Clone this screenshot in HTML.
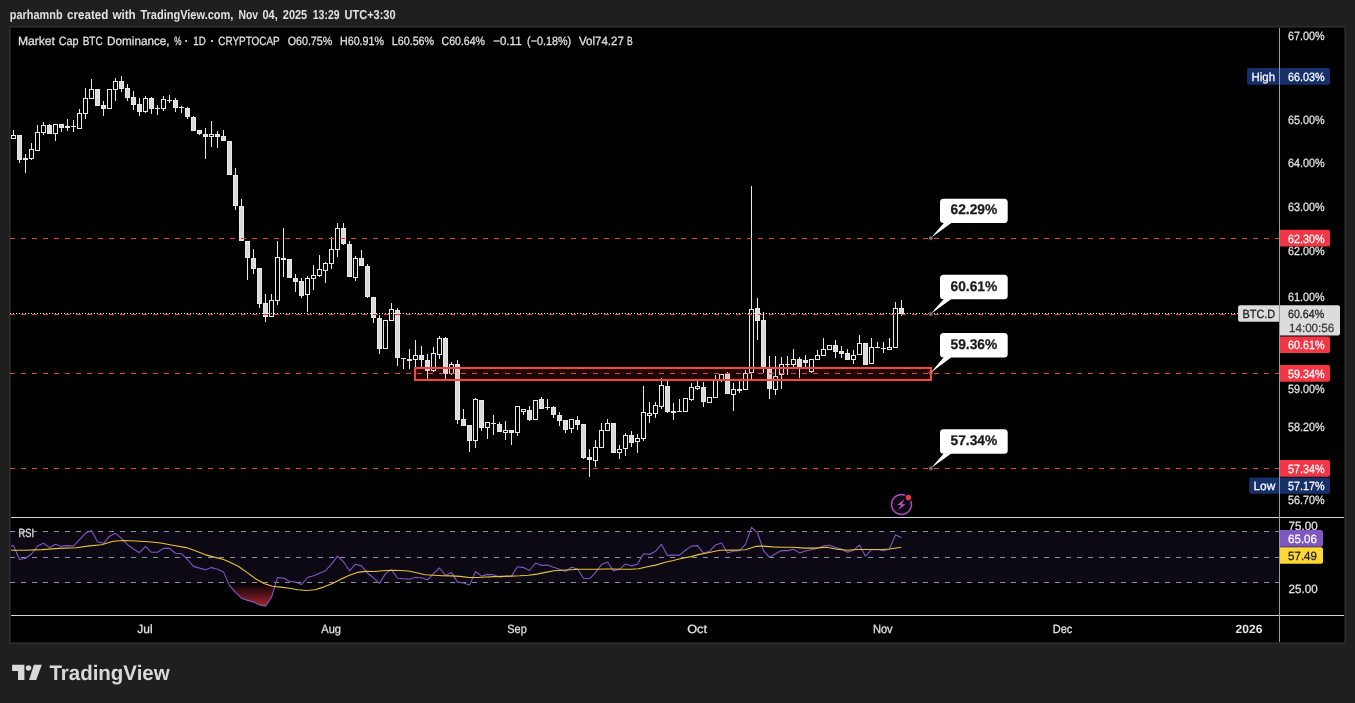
<!DOCTYPE html>
<html lang="en"><head><meta charset="utf-8"><title>BTC.D chart</title>
<style>html,body{margin:0;padding:0;background:#1f1f1f;overflow:hidden}svg{display:block}</style></head>
<body>
<svg width="1355" height="703" viewBox="0 0 1355 703" shape-rendering="crispEdges" text-rendering="geometricPrecision">
<style>text{font-family:"Liberation Sans",sans-serif;font-size:12px;fill:#e2e2e2;stroke:#e2e2e2;stroke-width:0.25px} .b{stroke:none} .w{stroke:#fff} .k{stroke:#1a1a1a} .b{font-weight:bold} .w{fill:#fff} .k{fill:#1a1a1a}</style>
<rect width="1355" height="703" fill="#1f1f1f"/>
<rect x="9" y="26" width="1337" height="618" fill="#2e2e2e"/>
<rect x="10" y="27" width="1335" height="616" fill="#1b1b1b"/>
<rect x="11" y="28" width="1333" height="614" fill="#000"/>
<text x="9.8" y="18.9" textLength="52.8" lengthAdjust="spacingAndGlyphs" class="b" style="font-size:13px">parhamnb</text>
<text x="67.0" y="18.9" textLength="41.3" lengthAdjust="spacingAndGlyphs" class="b" style="font-size:13px">created</text>
<text x="112.4" y="18.9" textLength="23.3" lengthAdjust="spacingAndGlyphs" class="b" style="font-size:13px">with</text>
<text x="140.4" y="18.9" textLength="93.0" lengthAdjust="spacingAndGlyphs" class="b" style="font-size:13px">TradingView.com,</text>
<text x="238.5" y="18.9" textLength="19.6" lengthAdjust="spacingAndGlyphs" class="b" style="font-size:13px">Nov</text>
<text x="262.4" y="18.9" textLength="15.3" lengthAdjust="spacingAndGlyphs" class="b" style="font-size:13px">04,</text>
<text x="282.8" y="18.9" textLength="24.4" lengthAdjust="spacingAndGlyphs" class="b" style="font-size:13px">2025</text>
<text x="312.8" y="18.9" textLength="26.8" lengthAdjust="spacingAndGlyphs" class="b" style="font-size:13px">13:29</text>
<text x="344.5" y="18.9" textLength="51.1" lengthAdjust="spacingAndGlyphs" class="b" style="font-size:13px">UTC+3:30</text>
<rect x="11" y="531" width="1268" height="52" fill="#0d0914"/>
<line x1="10" x2="1279" y1="531.5" y2="531.5" stroke="#8d909b" stroke-width="1" stroke-dasharray="5 6"/>
<line x1="10" x2="1279" y1="557.5" y2="557.5" stroke="#8d909b" stroke-width="1" stroke-dasharray="5 6"/>
<line x1="10" x2="1279" y1="582.5" y2="582.5" stroke="#8d909b" stroke-width="1" stroke-dasharray="5 6"/>
<rect x="13" y="130" width="1" height="9" fill="#e7e7e7"/>
<rect x="11" y="135" width="5" height="4" fill="#e7e7e7"/><rect x="12" y="136" width="3" height="2" fill="#000"/>
<rect x="19" y="135" width="1" height="28" fill="#e7e7e7"/>
<rect x="17" y="135" width="5" height="25" fill="#e7e7e7"/><rect x="18" y="136" width="3" height="23" fill="#dadada"/>
<rect x="25" y="154" width="1" height="19" fill="#e7e7e7"/>
<rect x="23" y="158" width="5" height="2" fill="#e7e7e7"/>
<rect x="31" y="143" width="1" height="17" fill="#e7e7e7"/>
<rect x="29" y="149" width="5" height="10" fill="#e7e7e7"/><rect x="30" y="150" width="3" height="8" fill="#000"/>
<rect x="37" y="125" width="1" height="26" fill="#e7e7e7"/>
<rect x="35" y="132" width="5" height="19" fill="#e7e7e7"/><rect x="36" y="133" width="3" height="17" fill="#000"/>
<rect x="43" y="122" width="1" height="13" fill="#e7e7e7"/>
<rect x="41" y="125" width="5" height="8" fill="#e7e7e7"/><rect x="42" y="126" width="3" height="6" fill="#000"/>
<rect x="49" y="124" width="1" height="10" fill="#e7e7e7"/>
<rect x="47" y="125" width="5" height="9" fill="#e7e7e7"/><rect x="48" y="126" width="3" height="7" fill="#dadada"/>
<rect x="55" y="124" width="1" height="17" fill="#e7e7e7"/>
<rect x="53" y="124" width="5" height="10" fill="#e7e7e7"/><rect x="54" y="125" width="3" height="8" fill="#000"/>
<rect x="61" y="124" width="1" height="8" fill="#e7e7e7"/>
<rect x="59" y="124" width="5" height="4" fill="#e7e7e7"/><rect x="60" y="125" width="3" height="2" fill="#dadada"/>
<rect x="67" y="119" width="1" height="12" fill="#e7e7e7"/>
<rect x="65" y="126" width="5" height="2" fill="#e7e7e7"/>
<rect x="73" y="120" width="1" height="12" fill="#e7e7e7"/>
<rect x="71" y="126" width="5" height="1" fill="#e7e7e7"/>
<rect x="79" y="109" width="1" height="20" fill="#e7e7e7"/>
<rect x="77" y="113" width="5" height="16" fill="#e7e7e7"/><rect x="78" y="114" width="3" height="14" fill="#000"/>
<rect x="85" y="88" width="1" height="31" fill="#e7e7e7"/>
<rect x="83" y="98" width="5" height="16" fill="#e7e7e7"/><rect x="84" y="99" width="3" height="14" fill="#000"/>
<rect x="91" y="79" width="1" height="20" fill="#e7e7e7"/>
<rect x="89" y="89" width="5" height="10" fill="#e7e7e7"/><rect x="90" y="90" width="3" height="8" fill="#000"/>
<rect x="97" y="89" width="1" height="17" fill="#e7e7e7"/>
<rect x="95" y="89" width="5" height="17" fill="#e7e7e7"/><rect x="96" y="90" width="3" height="15" fill="#dadada"/>
<rect x="103" y="101" width="1" height="15" fill="#e7e7e7"/>
<rect x="101" y="105" width="5" height="4" fill="#e7e7e7"/><rect x="102" y="106" width="3" height="2" fill="#dadada"/>
<rect x="109" y="89" width="1" height="20" fill="#e7e7e7"/>
<rect x="107" y="89" width="5" height="20" fill="#e7e7e7"/><rect x="108" y="90" width="3" height="18" fill="#000"/>
<rect x="115" y="78" width="1" height="23" fill="#e7e7e7"/>
<rect x="113" y="81" width="5" height="9" fill="#e7e7e7"/><rect x="114" y="82" width="3" height="7" fill="#000"/>
<rect x="121" y="76" width="1" height="16" fill="#e7e7e7"/>
<rect x="119" y="81" width="5" height="8" fill="#e7e7e7"/><rect x="120" y="82" width="3" height="6" fill="#dadada"/>
<rect x="127" y="84" width="1" height="17" fill="#e7e7e7"/>
<rect x="125" y="88" width="5" height="10" fill="#e7e7e7"/><rect x="126" y="89" width="3" height="8" fill="#dadada"/>
<rect x="133" y="91" width="1" height="19" fill="#e7e7e7"/>
<rect x="131" y="97" width="5" height="8" fill="#e7e7e7"/><rect x="132" y="98" width="3" height="6" fill="#dadada"/>
<rect x="139" y="98" width="1" height="18" fill="#e7e7e7"/>
<rect x="137" y="104" width="5" height="8" fill="#e7e7e7"/><rect x="138" y="105" width="3" height="6" fill="#dadada"/>
<rect x="145" y="96" width="1" height="17" fill="#e7e7e7"/>
<rect x="143" y="98" width="5" height="14" fill="#e7e7e7"/><rect x="144" y="99" width="3" height="12" fill="#000"/>
<rect x="151" y="97" width="1" height="17" fill="#e7e7e7"/>
<rect x="149" y="98" width="5" height="11" fill="#e7e7e7"/><rect x="150" y="99" width="3" height="9" fill="#dadada"/>
<rect x="157" y="105" width="1" height="10" fill="#e7e7e7"/>
<rect x="155" y="108" width="5" height="1" fill="#e7e7e7"/>
<rect x="163" y="96" width="1" height="15" fill="#e7e7e7"/>
<rect x="161" y="99" width="5" height="10" fill="#e7e7e7"/><rect x="162" y="100" width="3" height="8" fill="#000"/>
<rect x="169" y="95" width="1" height="8" fill="#e7e7e7"/>
<rect x="167" y="100" width="5" height="1" fill="#e7e7e7"/>
<rect x="175" y="98" width="1" height="14" fill="#e7e7e7"/>
<rect x="173" y="100" width="5" height="8" fill="#e7e7e7"/><rect x="174" y="101" width="3" height="6" fill="#dadada"/>
<rect x="181" y="106" width="1" height="7" fill="#e7e7e7"/>
<rect x="179" y="107" width="5" height="1" fill="#e7e7e7"/>
<rect x="187" y="107" width="1" height="12" fill="#e7e7e7"/>
<rect x="185" y="108" width="5" height="9" fill="#e7e7e7"/><rect x="186" y="109" width="3" height="7" fill="#dadada"/>
<rect x="193" y="116" width="1" height="15" fill="#e7e7e7"/>
<rect x="191" y="117" width="5" height="14" fill="#e7e7e7"/><rect x="192" y="118" width="3" height="12" fill="#dadada"/>
<rect x="199" y="130" width="1" height="5" fill="#e7e7e7"/>
<rect x="197" y="130" width="5" height="4" fill="#e7e7e7"/><rect x="198" y="131" width="3" height="2" fill="#dadada"/>
<rect x="205" y="128" width="1" height="31" fill="#e7e7e7"/>
<rect x="203" y="134" width="5" height="3" fill="#e7e7e7"/><rect x="204" y="135" width="3" height="1" fill="#dadada"/>
<rect x="211" y="121" width="1" height="26" fill="#e7e7e7"/>
<rect x="209" y="134" width="5" height="3" fill="#e7e7e7"/><rect x="210" y="135" width="3" height="1" fill="#000"/>
<rect x="217" y="131" width="1" height="17" fill="#e7e7e7"/>
<rect x="215" y="134" width="5" height="3" fill="#e7e7e7"/><rect x="216" y="135" width="3" height="1" fill="#dadada"/>
<rect x="223" y="130" width="1" height="11" fill="#e7e7e7"/>
<rect x="221" y="136" width="5" height="5" fill="#e7e7e7"/><rect x="222" y="137" width="3" height="3" fill="#dadada"/>
<rect x="229" y="141" width="1" height="34" fill="#e7e7e7"/>
<rect x="227" y="141" width="5" height="34" fill="#e7e7e7"/><rect x="228" y="142" width="3" height="32" fill="#dadada"/>
<rect x="235" y="168" width="1" height="42" fill="#e7e7e7"/>
<rect x="233" y="175" width="5" height="31" fill="#e7e7e7"/><rect x="234" y="176" width="3" height="29" fill="#dadada"/>
<rect x="241" y="199" width="1" height="42" fill="#e7e7e7"/>
<rect x="239" y="206" width="5" height="35" fill="#e7e7e7"/><rect x="240" y="207" width="3" height="33" fill="#dadada"/>
<rect x="247" y="241" width="1" height="39" fill="#e7e7e7"/>
<rect x="245" y="241" width="5" height="17" fill="#e7e7e7"/><rect x="246" y="242" width="3" height="15" fill="#dadada"/>
<rect x="253" y="249" width="1" height="25" fill="#e7e7e7"/>
<rect x="251" y="258" width="5" height="11" fill="#e7e7e7"/><rect x="252" y="259" width="3" height="9" fill="#dadada"/>
<rect x="259" y="268" width="1" height="40" fill="#e7e7e7"/>
<rect x="257" y="268" width="5" height="36" fill="#e7e7e7"/><rect x="258" y="269" width="3" height="34" fill="#dadada"/>
<rect x="265" y="294" width="1" height="28" fill="#e7e7e7"/>
<rect x="263" y="303" width="5" height="14" fill="#e7e7e7"/><rect x="264" y="304" width="3" height="12" fill="#dadada"/>
<rect x="271" y="294" width="1" height="23" fill="#e7e7e7"/>
<rect x="269" y="300" width="5" height="17" fill="#e7e7e7"/><rect x="270" y="301" width="3" height="15" fill="#000"/>
<rect x="277" y="241" width="1" height="64" fill="#e7e7e7"/>
<rect x="275" y="257" width="5" height="44" fill="#e7e7e7"/><rect x="276" y="258" width="3" height="42" fill="#000"/>
<rect x="283" y="228" width="1" height="49" fill="#e7e7e7"/>
<rect x="281" y="258" width="5" height="2" fill="#e7e7e7"/>
<rect x="289" y="259" width="1" height="19" fill="#e7e7e7"/>
<rect x="287" y="259" width="5" height="19" fill="#e7e7e7"/><rect x="288" y="260" width="3" height="17" fill="#dadada"/>
<rect x="295" y="274" width="1" height="18" fill="#e7e7e7"/>
<rect x="293" y="278" width="5" height="4" fill="#e7e7e7"/><rect x="294" y="279" width="3" height="2" fill="#dadada"/>
<rect x="301" y="278" width="1" height="20" fill="#e7e7e7"/>
<rect x="299" y="281" width="5" height="15" fill="#e7e7e7"/><rect x="300" y="282" width="3" height="13" fill="#dadada"/>
<rect x="307" y="276" width="1" height="36" fill="#e7e7e7"/>
<rect x="305" y="278" width="5" height="17" fill="#e7e7e7"/><rect x="306" y="279" width="3" height="15" fill="#000"/>
<rect x="313" y="265" width="1" height="25" fill="#e7e7e7"/>
<rect x="311" y="275" width="5" height="4" fill="#e7e7e7"/><rect x="312" y="276" width="3" height="2" fill="#000"/>
<rect x="319" y="255" width="1" height="22" fill="#e7e7e7"/>
<rect x="317" y="269" width="5" height="7" fill="#e7e7e7"/><rect x="318" y="270" width="3" height="5" fill="#000"/>
<rect x="325" y="262" width="1" height="21" fill="#e7e7e7"/>
<rect x="323" y="263" width="5" height="8" fill="#e7e7e7"/><rect x="324" y="264" width="3" height="6" fill="#000"/>
<rect x="331" y="237" width="1" height="32" fill="#e7e7e7"/>
<rect x="329" y="249" width="5" height="15" fill="#e7e7e7"/><rect x="330" y="250" width="3" height="13" fill="#000"/>
<rect x="337" y="223" width="1" height="34" fill="#e7e7e7"/>
<rect x="335" y="228" width="5" height="22" fill="#e7e7e7"/><rect x="336" y="229" width="3" height="20" fill="#000"/>
<rect x="343" y="223" width="1" height="22" fill="#e7e7e7"/>
<rect x="341" y="228" width="5" height="16" fill="#e7e7e7"/><rect x="342" y="229" width="3" height="14" fill="#dadada"/>
<rect x="349" y="241" width="1" height="36" fill="#e7e7e7"/>
<rect x="347" y="244" width="5" height="33" fill="#e7e7e7"/><rect x="348" y="245" width="3" height="31" fill="#dadada"/>
<rect x="355" y="256" width="1" height="25" fill="#e7e7e7"/>
<rect x="353" y="258" width="5" height="20" fill="#e7e7e7"/><rect x="354" y="259" width="3" height="18" fill="#000"/>
<rect x="361" y="250" width="1" height="16" fill="#e7e7e7"/>
<rect x="359" y="258" width="5" height="8" fill="#e7e7e7"/><rect x="360" y="259" width="3" height="6" fill="#dadada"/>
<rect x="367" y="264" width="1" height="34" fill="#e7e7e7"/>
<rect x="365" y="266" width="5" height="31" fill="#e7e7e7"/><rect x="366" y="267" width="3" height="29" fill="#dadada"/>
<rect x="373" y="297" width="1" height="26" fill="#e7e7e7"/>
<rect x="371" y="297" width="5" height="21" fill="#e7e7e7"/><rect x="372" y="298" width="3" height="19" fill="#dadada"/>
<rect x="379" y="315" width="1" height="39" fill="#e7e7e7"/>
<rect x="377" y="318" width="5" height="31" fill="#e7e7e7"/><rect x="378" y="319" width="3" height="29" fill="#dadada"/>
<rect x="385" y="320" width="1" height="29" fill="#e7e7e7"/>
<rect x="383" y="320" width="5" height="29" fill="#e7e7e7"/><rect x="384" y="321" width="3" height="27" fill="#000"/>
<rect x="391" y="303" width="1" height="18" fill="#e7e7e7"/>
<rect x="389" y="309" width="5" height="12" fill="#e7e7e7"/><rect x="390" y="310" width="3" height="10" fill="#000"/>
<rect x="397" y="308" width="1" height="58" fill="#e7e7e7"/>
<rect x="395" y="310" width="5" height="48" fill="#e7e7e7"/><rect x="396" y="311" width="3" height="46" fill="#dadada"/>
<rect x="403" y="358" width="1" height="11" fill="#e7e7e7"/>
<rect x="401" y="358" width="5" height="1" fill="#e7e7e7"/>
<rect x="409" y="349" width="1" height="20" fill="#e7e7e7"/>
<rect x="407" y="359" width="5" height="2" fill="#e7e7e7"/>
<rect x="415" y="340" width="1" height="28" fill="#e7e7e7"/>
<rect x="413" y="355" width="5" height="5" fill="#e7e7e7"/><rect x="414" y="356" width="3" height="3" fill="#000"/>
<rect x="421" y="346" width="1" height="22" fill="#e7e7e7"/>
<rect x="419" y="355" width="5" height="5" fill="#e7e7e7"/><rect x="420" y="356" width="3" height="3" fill="#dadada"/>
<rect x="427" y="354" width="1" height="25" fill="#e7e7e7"/>
<rect x="425" y="360" width="5" height="11" fill="#e7e7e7"/><rect x="426" y="361" width="3" height="9" fill="#dadada"/>
<rect x="433" y="347" width="1" height="25" fill="#e7e7e7"/>
<rect x="431" y="353" width="5" height="18" fill="#e7e7e7"/><rect x="432" y="354" width="3" height="16" fill="#000"/>
<rect x="439" y="336" width="1" height="23" fill="#e7e7e7"/>
<rect x="437" y="338" width="5" height="17" fill="#e7e7e7"/><rect x="438" y="339" width="3" height="15" fill="#000"/>
<rect x="445" y="337" width="1" height="42" fill="#e7e7e7"/>
<rect x="443" y="338" width="5" height="36" fill="#e7e7e7"/><rect x="444" y="339" width="3" height="34" fill="#dadada"/>
<rect x="451" y="362" width="1" height="13" fill="#e7e7e7"/>
<rect x="449" y="364" width="5" height="10" fill="#e7e7e7"/><rect x="450" y="365" width="3" height="8" fill="#000"/>
<rect x="457" y="360" width="1" height="64" fill="#e7e7e7"/>
<rect x="455" y="364" width="5" height="56" fill="#e7e7e7"/><rect x="456" y="365" width="3" height="54" fill="#dadada"/>
<rect x="463" y="409" width="1" height="17" fill="#e7e7e7"/>
<rect x="461" y="419" width="5" height="7" fill="#e7e7e7"/><rect x="462" y="420" width="3" height="5" fill="#dadada"/>
<rect x="469" y="425" width="1" height="27" fill="#e7e7e7"/>
<rect x="467" y="425" width="5" height="16" fill="#e7e7e7"/><rect x="468" y="426" width="3" height="14" fill="#dadada"/>
<rect x="475" y="398" width="1" height="50" fill="#e7e7e7"/>
<rect x="473" y="399" width="5" height="42" fill="#e7e7e7"/><rect x="474" y="400" width="3" height="40" fill="#000"/>
<rect x="481" y="400" width="1" height="31" fill="#e7e7e7"/>
<rect x="479" y="400" width="5" height="28" fill="#e7e7e7"/><rect x="480" y="401" width="3" height="26" fill="#dadada"/>
<rect x="487" y="422" width="1" height="17" fill="#e7e7e7"/>
<rect x="485" y="422" width="5" height="6" fill="#e7e7e7"/><rect x="486" y="423" width="3" height="4" fill="#000"/>
<rect x="493" y="415" width="1" height="20" fill="#e7e7e7"/>
<rect x="491" y="423" width="5" height="1" fill="#e7e7e7"/>
<rect x="499" y="422" width="1" height="10" fill="#e7e7e7"/>
<rect x="497" y="424" width="5" height="8" fill="#e7e7e7"/><rect x="498" y="425" width="3" height="6" fill="#dadada"/>
<rect x="505" y="421" width="1" height="19" fill="#e7e7e7"/>
<rect x="503" y="430" width="5" height="3" fill="#e7e7e7"/><rect x="504" y="431" width="3" height="1" fill="#000"/>
<rect x="511" y="430" width="1" height="15" fill="#e7e7e7"/>
<rect x="509" y="430" width="5" height="3" fill="#e7e7e7"/><rect x="510" y="431" width="3" height="1" fill="#dadada"/>
<rect x="517" y="406" width="1" height="30" fill="#e7e7e7"/>
<rect x="515" y="406" width="5" height="27" fill="#e7e7e7"/><rect x="516" y="407" width="3" height="25" fill="#000"/>
<rect x="523" y="409" width="1" height="6" fill="#e7e7e7"/>
<rect x="521" y="409" width="5" height="3" fill="#e7e7e7"/><rect x="522" y="410" width="3" height="1" fill="#000"/>
<rect x="529" y="406" width="1" height="15" fill="#e7e7e7"/>
<rect x="527" y="410" width="5" height="10" fill="#e7e7e7"/><rect x="528" y="411" width="3" height="8" fill="#dadada"/>
<rect x="535" y="400" width="1" height="20" fill="#e7e7e7"/>
<rect x="533" y="400" width="5" height="20" fill="#e7e7e7"/><rect x="534" y="401" width="3" height="18" fill="#000"/>
<rect x="541" y="397" width="1" height="12" fill="#e7e7e7"/>
<rect x="539" y="399" width="5" height="10" fill="#e7e7e7"/><rect x="540" y="400" width="3" height="8" fill="#dadada"/>
<rect x="547" y="399" width="1" height="11" fill="#e7e7e7"/>
<rect x="545" y="407" width="5" height="1" fill="#e7e7e7"/>
<rect x="553" y="406" width="1" height="12" fill="#e7e7e7"/>
<rect x="551" y="407" width="5" height="8" fill="#e7e7e7"/><rect x="552" y="408" width="3" height="6" fill="#dadada"/>
<rect x="559" y="412" width="1" height="14" fill="#e7e7e7"/>
<rect x="557" y="415" width="5" height="6" fill="#e7e7e7"/><rect x="558" y="416" width="3" height="4" fill="#dadada"/>
<rect x="565" y="420" width="1" height="13" fill="#e7e7e7"/>
<rect x="563" y="420" width="5" height="10" fill="#e7e7e7"/><rect x="564" y="421" width="3" height="8" fill="#dadada"/>
<rect x="571" y="419" width="1" height="14" fill="#e7e7e7"/>
<rect x="569" y="419" width="5" height="10" fill="#e7e7e7"/><rect x="570" y="420" width="3" height="8" fill="#000"/>
<rect x="577" y="416" width="1" height="14" fill="#e7e7e7"/>
<rect x="575" y="420" width="5" height="5" fill="#e7e7e7"/><rect x="576" y="421" width="3" height="3" fill="#dadada"/>
<rect x="583" y="424" width="1" height="35" fill="#e7e7e7"/>
<rect x="581" y="424" width="5" height="34" fill="#e7e7e7"/><rect x="582" y="425" width="3" height="32" fill="#dadada"/>
<rect x="589" y="449" width="1" height="28" fill="#e7e7e7"/>
<rect x="587" y="457" width="5" height="3" fill="#e7e7e7"/><rect x="588" y="458" width="3" height="1" fill="#dadada"/>
<rect x="595" y="440" width="1" height="27" fill="#e7e7e7"/>
<rect x="593" y="447" width="5" height="14" fill="#e7e7e7"/><rect x="594" y="448" width="3" height="12" fill="#000"/>
<rect x="601" y="423" width="1" height="25" fill="#e7e7e7"/>
<rect x="599" y="430" width="5" height="18" fill="#e7e7e7"/><rect x="600" y="431" width="3" height="16" fill="#000"/>
<rect x="607" y="419" width="1" height="12" fill="#e7e7e7"/>
<rect x="605" y="423" width="5" height="8" fill="#e7e7e7"/><rect x="606" y="424" width="3" height="6" fill="#000"/>
<rect x="613" y="423" width="1" height="30" fill="#e7e7e7"/>
<rect x="611" y="423" width="5" height="30" fill="#e7e7e7"/><rect x="612" y="424" width="3" height="28" fill="#dadada"/>
<rect x="619" y="445" width="1" height="14" fill="#e7e7e7"/>
<rect x="617" y="449" width="5" height="4" fill="#e7e7e7"/><rect x="618" y="450" width="3" height="2" fill="#000"/>
<rect x="625" y="433" width="1" height="23" fill="#e7e7e7"/>
<rect x="623" y="435" width="5" height="14" fill="#e7e7e7"/><rect x="624" y="436" width="3" height="12" fill="#000"/>
<rect x="631" y="431" width="1" height="16" fill="#e7e7e7"/>
<rect x="629" y="435" width="5" height="8" fill="#e7e7e7"/><rect x="630" y="436" width="3" height="6" fill="#dadada"/>
<rect x="637" y="434" width="1" height="19" fill="#e7e7e7"/>
<rect x="635" y="438" width="5" height="4" fill="#e7e7e7"/><rect x="636" y="439" width="3" height="2" fill="#000"/>
<rect x="643" y="386" width="1" height="55" fill="#e7e7e7"/>
<rect x="641" y="412" width="5" height="27" fill="#e7e7e7"/><rect x="642" y="413" width="3" height="25" fill="#000"/>
<rect x="649" y="402" width="1" height="21" fill="#e7e7e7"/>
<rect x="647" y="413" width="5" height="3" fill="#e7e7e7"/><rect x="648" y="414" width="3" height="1" fill="#000"/>
<rect x="655" y="402" width="1" height="16" fill="#e7e7e7"/>
<rect x="653" y="405" width="5" height="9" fill="#e7e7e7"/><rect x="654" y="406" width="3" height="7" fill="#000"/>
<rect x="661" y="378" width="1" height="31" fill="#e7e7e7"/>
<rect x="659" y="385" width="5" height="22" fill="#e7e7e7"/><rect x="660" y="386" width="3" height="20" fill="#000"/>
<rect x="667" y="381" width="1" height="32" fill="#e7e7e7"/>
<rect x="665" y="386" width="5" height="26" fill="#e7e7e7"/><rect x="666" y="387" width="3" height="24" fill="#dadada"/>
<rect x="673" y="403" width="1" height="17" fill="#e7e7e7"/>
<rect x="671" y="411" width="5" height="2" fill="#e7e7e7"/>
<rect x="679" y="399" width="1" height="13" fill="#e7e7e7"/>
<rect x="677" y="411" width="5" height="1" fill="#e7e7e7"/>
<rect x="685" y="398" width="1" height="14" fill="#e7e7e7"/>
<rect x="683" y="398" width="5" height="14" fill="#e7e7e7"/><rect x="684" y="399" width="3" height="12" fill="#000"/>
<rect x="691" y="383" width="1" height="18" fill="#e7e7e7"/>
<rect x="689" y="387" width="5" height="13" fill="#e7e7e7"/><rect x="690" y="388" width="3" height="11" fill="#000"/>
<rect x="697" y="381" width="1" height="9" fill="#e7e7e7"/>
<rect x="695" y="386" width="5" height="3" fill="#e7e7e7"/><rect x="696" y="387" width="3" height="1" fill="#000"/>
<rect x="703" y="382" width="1" height="25" fill="#e7e7e7"/>
<rect x="701" y="387" width="5" height="15" fill="#e7e7e7"/><rect x="702" y="388" width="3" height="13" fill="#dadada"/>
<rect x="709" y="397" width="1" height="6" fill="#e7e7e7"/>
<rect x="707" y="397" width="5" height="6" fill="#e7e7e7"/><rect x="708" y="398" width="3" height="4" fill="#000"/>
<rect x="715" y="375" width="1" height="23" fill="#e7e7e7"/>
<rect x="713" y="380" width="5" height="18" fill="#e7e7e7"/><rect x="714" y="381" width="3" height="16" fill="#000"/>
<rect x="721" y="374" width="1" height="8" fill="#e7e7e7"/>
<rect x="719" y="374" width="5" height="7" fill="#e7e7e7"/><rect x="720" y="375" width="3" height="5" fill="#000"/>
<rect x="727" y="372" width="1" height="22" fill="#e7e7e7"/>
<rect x="725" y="373" width="5" height="21" fill="#e7e7e7"/><rect x="726" y="374" width="3" height="19" fill="#dadada"/>
<rect x="733" y="383" width="1" height="28" fill="#e7e7e7"/>
<rect x="731" y="389" width="5" height="6" fill="#e7e7e7"/><rect x="732" y="390" width="3" height="4" fill="#000"/>
<rect x="739" y="381" width="1" height="12" fill="#e7e7e7"/>
<rect x="737" y="389" width="5" height="2" fill="#e7e7e7"/>
<rect x="745" y="370" width="1" height="20" fill="#e7e7e7"/>
<rect x="743" y="373" width="5" height="17" fill="#e7e7e7"/><rect x="744" y="374" width="3" height="15" fill="#000"/>
<rect x="751" y="186" width="1" height="193" fill="#e7e7e7"/>
<rect x="749" y="309" width="5" height="64" fill="#e7e7e7"/><rect x="750" y="310" width="3" height="62" fill="#000"/>
<rect x="757" y="298" width="1" height="42" fill="#e7e7e7"/>
<rect x="755" y="308" width="5" height="13" fill="#e7e7e7"/><rect x="756" y="309" width="3" height="11" fill="#dadada"/>
<rect x="763" y="312" width="1" height="61" fill="#e7e7e7"/>
<rect x="761" y="320" width="5" height="48" fill="#e7e7e7"/><rect x="762" y="321" width="3" height="46" fill="#dadada"/>
<rect x="769" y="356" width="1" height="43" fill="#e7e7e7"/>
<rect x="767" y="369" width="5" height="20" fill="#e7e7e7"/><rect x="768" y="370" width="3" height="18" fill="#dadada"/>
<rect x="775" y="356" width="1" height="39" fill="#e7e7e7"/>
<rect x="773" y="376" width="5" height="14" fill="#e7e7e7"/><rect x="774" y="377" width="3" height="12" fill="#000"/>
<rect x="781" y="357" width="1" height="32" fill="#e7e7e7"/>
<rect x="779" y="364" width="5" height="11" fill="#e7e7e7"/><rect x="780" y="365" width="3" height="9" fill="#000"/>
<rect x="787" y="356" width="1" height="19" fill="#e7e7e7"/>
<rect x="785" y="364" width="5" height="1" fill="#e7e7e7"/>
<rect x="793" y="349" width="1" height="18" fill="#e7e7e7"/>
<rect x="791" y="359" width="5" height="6" fill="#e7e7e7"/><rect x="792" y="360" width="3" height="4" fill="#000"/>
<rect x="799" y="357" width="1" height="21" fill="#e7e7e7"/>
<rect x="797" y="359" width="5" height="8" fill="#e7e7e7"/><rect x="798" y="360" width="3" height="6" fill="#dadada"/>
<rect x="805" y="355" width="1" height="12" fill="#e7e7e7"/>
<rect x="803" y="360" width="5" height="3" fill="#e7e7e7"/><rect x="804" y="361" width="3" height="1" fill="#dadada"/>
<rect x="811" y="359" width="1" height="14" fill="#e7e7e7"/>
<rect x="809" y="359" width="5" height="13" fill="#e7e7e7"/><rect x="810" y="360" width="3" height="11" fill="#000"/>
<rect x="817" y="350" width="1" height="10" fill="#e7e7e7"/>
<rect x="815" y="355" width="5" height="5" fill="#e7e7e7"/><rect x="816" y="356" width="3" height="3" fill="#000"/>
<rect x="823" y="338" width="1" height="18" fill="#e7e7e7"/>
<rect x="821" y="349" width="5" height="7" fill="#e7e7e7"/><rect x="822" y="350" width="3" height="5" fill="#000"/>
<rect x="829" y="345" width="1" height="5" fill="#e7e7e7"/>
<rect x="827" y="345" width="5" height="5" fill="#e7e7e7"/><rect x="828" y="346" width="3" height="3" fill="#000"/>
<rect x="835" y="340" width="1" height="18" fill="#e7e7e7"/>
<rect x="833" y="345" width="5" height="7" fill="#e7e7e7"/><rect x="834" y="346" width="3" height="5" fill="#dadada"/>
<rect x="841" y="346" width="1" height="12" fill="#e7e7e7"/>
<rect x="839" y="351" width="5" height="3" fill="#e7e7e7"/><rect x="840" y="352" width="3" height="1" fill="#dadada"/>
<rect x="847" y="349" width="1" height="11" fill="#e7e7e7"/>
<rect x="845" y="353" width="5" height="7" fill="#e7e7e7"/><rect x="846" y="354" width="3" height="5" fill="#dadada"/>
<rect x="853" y="350" width="1" height="14" fill="#e7e7e7"/>
<rect x="851" y="355" width="5" height="5" fill="#e7e7e7"/><rect x="852" y="356" width="3" height="3" fill="#000"/>
<rect x="859" y="335" width="1" height="20" fill="#e7e7e7"/>
<rect x="857" y="343" width="5" height="12" fill="#e7e7e7"/><rect x="858" y="344" width="3" height="10" fill="#000"/>
<rect x="865" y="343" width="1" height="22" fill="#e7e7e7"/>
<rect x="863" y="343" width="5" height="22" fill="#e7e7e7"/><rect x="864" y="344" width="3" height="20" fill="#dadada"/>
<rect x="871" y="338" width="1" height="26" fill="#e7e7e7"/>
<rect x="869" y="347" width="5" height="17" fill="#e7e7e7"/><rect x="870" y="348" width="3" height="15" fill="#000"/>
<rect x="877" y="342" width="1" height="6" fill="#e7e7e7"/>
<rect x="875" y="347" width="5" height="1" fill="#e7e7e7"/>
<rect x="883" y="342" width="1" height="11" fill="#e7e7e7"/>
<rect x="881" y="348" width="5" height="1" fill="#e7e7e7"/>
<rect x="889" y="338" width="1" height="12" fill="#e7e7e7"/>
<rect x="887" y="347" width="5" height="3" fill="#e7e7e7"/><rect x="888" y="348" width="3" height="1" fill="#000"/>
<rect x="895" y="302" width="1" height="46" fill="#e7e7e7"/>
<rect x="893" y="308" width="5" height="40" fill="#e7e7e7"/><rect x="894" y="309" width="3" height="38" fill="#000"/>
<rect x="901" y="300" width="1" height="16" fill="#e7e7e7"/>
<rect x="899" y="308" width="5" height="6" fill="#e7e7e7"/><rect x="900" y="309" width="3" height="4" fill="#dadada"/>
<circle shape-rendering="auto" cx="930.8" cy="372.6" r="2.2" fill="#6a6a6a"/>
<rect x="415" y="368" width="516" height="12" fill="#f94438" fill-opacity="0.11" stroke="#f94438" stroke-width="2"/>
<line x1="10" x2="1279" y1="238.5" y2="238.5" stroke="#f23645" stroke-width="1" stroke-dasharray="5 6"/>
<line x1="10" x2="1279" y1="314.5" y2="314.5" stroke="#f23645" stroke-width="1" stroke-dasharray="5 6"/>
<line x1="10" x2="1279" y1="373.5" y2="373.5" stroke="#f23645" stroke-width="1" stroke-dasharray="5 6"/>
<line x1="10" x2="1279" y1="468.5" y2="468.5" stroke="#f23645" stroke-width="1" stroke-dasharray="5 6"/>
<line x1="10" x2="1279" y1="313.5" y2="313.5" stroke="#ececec" stroke-width="1" stroke-dasharray="1 2"/>
<g shape-rendering="auto">
<path d="M944 222.7 L951.7 222.7 L931.4 237.6 L930.9 238.0 Z" fill="#fff"/>
<rect x="940" y="198.7" width="67.7" height="24.4" rx="3.5" fill="#fff"/>
<circle cx="930.8" cy="238.2" r="1.9" fill="#7a7a7a" stroke="#3c3c3c" stroke-width="0.9"/>
</g>
<text x="950.5" y="214.4" textLength="46.8" lengthAdjust="spacingAndGlyphs" class="b k" style="font-size:14px">62.29%</text>
<g shape-rendering="auto">
<path d="M944 298.8 L951.7 298.8 L931.4 313.4 L930.9 313.8 Z" fill="#fff"/>
<rect x="940" y="274.8" width="67.7" height="24.4" rx="3.5" fill="#fff"/>
<circle cx="930.8" cy="314" r="1.9" fill="#7a7a7a" stroke="#3c3c3c" stroke-width="0.9"/>
</g>
<text x="950.5" y="290.5" textLength="46.8" lengthAdjust="spacingAndGlyphs" class="b k" style="font-size:14px">60.61%</text>
<g shape-rendering="auto">
<path d="M944 357.0 L951.7 357.0 L931.4 372.2 L930.9 372.6 Z" fill="#fff"/>
<rect x="940" y="333.0" width="67.7" height="24.4" rx="3.5" fill="#fff"/>
</g>
<text x="950.5" y="349.3" textLength="46.8" lengthAdjust="spacingAndGlyphs" class="b k" style="font-size:14px">59.36%</text>
<g shape-rendering="auto">
<path d="M944 453.3 L951.7 453.3 L931.4 467.79999999999995 L930.9 468.2 Z" fill="#fff"/>
<rect x="940" y="429.3" width="67.7" height="24.4" rx="3.5" fill="#fff"/>
<circle cx="930.8" cy="468.4" r="1.9" fill="#7a7a7a" stroke="#3c3c3c" stroke-width="0.9"/>
</g>
<text x="950.5" y="445.0" textLength="46.8" lengthAdjust="spacingAndGlyphs" class="b k" style="font-size:14px">57.34%</text>
<g shape-rendering="auto"><circle cx="901.5" cy="504.5" r="10" fill="#0f0c11" stroke="#ab47bc" stroke-width="1.5"/>
<path d="M904.2 499.2 L897.3 504.9 L901.3 504.9 L898.2 510 L905.6 504.2 L901.9 504.2 Z" fill="#ba4fd0"/>
<circle cx="908.4" cy="497.6" r="4.2" fill="#000"/><circle cx="908.4" cy="497.6" r="2.8" fill="#f23645"/></g>
<defs><linearGradient id="os" gradientUnits="userSpaceOnUse" x1="0" y1="583" x2="0" y2="607"><stop offset="0" stop-color="#f23645" stop-opacity="0"/><stop offset="1" stop-color="#f23645" stop-opacity="0.72"/></linearGradient><clipPath id="below"><rect x="10" y="582.5" width="1270" height="33"/></clipPath><clipPath id="pane"><rect x="11" y="518" width="1268" height="97"/></clipPath></defs>
<g shape-rendering="auto" clip-path="url(#pane)">
<polygon clip-path="url(#below)" points="7.5,582.5 7.5,546.4 13.5,545.6 19.5,559.5 25.5,558.3 31.5,554.0 37.5,546.1 43.5,543.3 49.5,547.6 55.5,544.2 61.5,546.4 67.5,545.6 73.5,546.1 79.5,539.6 85.5,533.3 91.5,530.6 97.5,541.8 103.5,543.3 109.5,536.2 115.5,533.3 121.5,538.4 127.5,544.7 133.5,549.0 139.5,552.7 145.5,546.4 151.5,552.3 157.5,552.3 163.5,548.4 169.5,548.4 175.5,553.2 181.5,553.7 187.5,559.5 193.5,566.4 199.5,568.1 205.5,569.7 211.5,567.6 217.5,569.3 223.5,571.9 229.5,585.4 235.5,592.4 241.5,598.2 247.5,600.4 253.5,601.9 259.5,605.0 265.5,606.3 271.5,597.3 277.5,577.5 283.5,578.1 289.5,581.2 295.5,582.1 301.5,584.6 307.5,577.5 313.5,575.8 319.5,573.2 325.5,570.7 331.5,564.2 337.5,556.2 343.5,561.7 349.5,570.7 355.5,564.2 361.5,565.9 367.5,573.2 373.5,577.8 379.5,583.4 385.5,573.6 391.5,569.8 397.5,578.3 403.5,578.7 409.5,579.2 415.5,577.3 421.5,577.8 427.5,579.8 433.5,573.6 439.5,568.0 445.5,575.3 451.5,572.4 457.5,582.1 463.5,582.9 469.5,585.1 475.5,571.5 481.5,576.1 487.5,574.4 493.5,574.8 499.5,577.0 505.5,576.4 511.5,576.1 517.5,566.8 523.5,567.6 529.5,570.5 535.5,563.0 541.5,565.4 547.5,565.1 553.5,567.3 559.5,569.3 565.5,571.4 571.5,567.3 577.5,569.0 583.5,578.3 589.5,578.8 595.5,572.7 601.5,564.6 607.5,562.0 613.5,571.0 619.5,569.3 625.5,563.9 631.5,565.9 637.5,564.2 643.5,553.7 649.5,554.4 655.5,551.2 661.5,544.4 667.5,555.4 673.5,555.1 679.5,555.1 685.5,550.3 691.5,546.1 697.5,545.6 703.5,553.2 709.5,551.2 715.5,545.0 721.5,543.0 727.5,552.7 733.5,551.2 739.5,550.6 745.5,544.4 751.5,527.4 757.5,532.8 763.5,550.6 769.5,557.4 775.5,553.7 781.5,550.6 787.5,550.6 793.5,549.3 799.5,552.9 805.5,551.0 811.5,549.8 817.5,548.1 823.5,545.9 829.5,545.2 835.5,547.6 841.5,549.0 847.5,552.3 853.5,550.3 859.5,545.0 865.5,556.2 871.5,549.8 877.5,549.5 883.5,550.6 889.5,549.0 895.5,534.9 901.5,537.6 901.5,582.5" fill="url(#os)"/>
<polyline points="7.5,546.4 13.5,545.6 19.5,559.5 25.5,558.3 31.5,554.0 37.5,546.1 43.5,543.3 49.5,547.6 55.5,544.2 61.5,546.4 67.5,545.6 73.5,546.1 79.5,539.6 85.5,533.3 91.5,530.6 97.5,541.8 103.5,543.3 109.5,536.2 115.5,533.3 121.5,538.4 127.5,544.7 133.5,549.0 139.5,552.7 145.5,546.4 151.5,552.3 157.5,552.3 163.5,548.4 169.5,548.4 175.5,553.2 181.5,553.7 187.5,559.5 193.5,566.4 199.5,568.1 205.5,569.7 211.5,567.6 217.5,569.3 223.5,571.9 229.5,585.4 235.5,592.4 241.5,598.2 247.5,600.4 253.5,601.9 259.5,605.0 265.5,606.3 271.5,597.3 277.5,577.5 283.5,578.1 289.5,581.2 295.5,582.1 301.5,584.6 307.5,577.5 313.5,575.8 319.5,573.2 325.5,570.7 331.5,564.2 337.5,556.2 343.5,561.7 349.5,570.7 355.5,564.2 361.5,565.9 367.5,573.2 373.5,577.8 379.5,583.4 385.5,573.6 391.5,569.8 397.5,578.3 403.5,578.7 409.5,579.2 415.5,577.3 421.5,577.8 427.5,579.8 433.5,573.6 439.5,568.0 445.5,575.3 451.5,572.4 457.5,582.1 463.5,582.9 469.5,585.1 475.5,571.5 481.5,576.1 487.5,574.4 493.5,574.8 499.5,577.0 505.5,576.4 511.5,576.1 517.5,566.8 523.5,567.6 529.5,570.5 535.5,563.0 541.5,565.4 547.5,565.1 553.5,567.3 559.5,569.3 565.5,571.4 571.5,567.3 577.5,569.0 583.5,578.3 589.5,578.8 595.5,572.7 601.5,564.6 607.5,562.0 613.5,571.0 619.5,569.3 625.5,563.9 631.5,565.9 637.5,564.2 643.5,553.7 649.5,554.4 655.5,551.2 661.5,544.4 667.5,555.4 673.5,555.1 679.5,555.1 685.5,550.3 691.5,546.1 697.5,545.6 703.5,553.2 709.5,551.2 715.5,545.0 721.5,543.0 727.5,552.7 733.5,551.2 739.5,550.6 745.5,544.4 751.5,527.4 757.5,532.8 763.5,550.6 769.5,557.4 775.5,553.7 781.5,550.6 787.5,550.6 793.5,549.3 799.5,552.9 805.5,551.0 811.5,549.8 817.5,548.1 823.5,545.9 829.5,545.2 835.5,547.6 841.5,549.0 847.5,552.3 853.5,550.3 859.5,545.0 865.5,556.2 871.5,549.8 877.5,549.5 883.5,550.6 889.5,549.0 895.5,534.9 901.5,537.6" fill="none" stroke="#7e57c2" stroke-width="1.1" stroke-linejoin="round"/>
<polyline points="10.5,550.3 25.0,550.3 42.0,549.6 58.9,548.4 75.9,547.8 89.5,545.9 101.4,544.7 113.2,541.3 123.4,540.5 135.3,541.0 148.9,541.8 160.8,543.0 172.7,545.2 186.2,547.6 194.7,550.6 204.9,554.6 215.1,557.4 223.6,559.5 230.0,562.2 238.2,566.3 247.0,572.4 255.5,578.7 264.0,583.4 272.4,586.3 280.9,587.1 289.4,588.3 297.9,589.7 306.4,590.5 314.9,589.7 323.4,587.1 331.9,583.7 340.3,579.5 348.8,575.6 357.3,572.4 365.8,571.4 374.3,571.5 382.8,570.7 391.3,570.2 399.8,570.5 408.2,571.0 416.7,572.7 425.2,574.8 433.7,575.3 442.2,575.8 451.3,575.9 460.2,576.4 469.0,577.5 477.5,577.5 486.0,577.0 494.4,576.6 502.9,576.4 511.4,576.1 519.9,575.8 528.4,575.3 536.9,574.1 545.4,572.4 553.9,570.7 562.3,570.2 570.8,569.7 579.3,569.3 587.8,569.3 596.3,569.3 604.8,569.0 613.3,569.0 621.8,569.3 630.2,569.3 638.7,568.8 647.2,566.8 655.7,565.1 664.2,562.5 673.3,560.5 682.2,558.3 691.0,556.6 699.5,554.4 708.0,552.7 719.8,550.3 733.4,550.1 745.3,549.8 755.5,546.4 762.3,546.1 772.5,546.9 782.6,547.3 792.8,547.3 804.7,548.1 814.9,548.1 826.8,547.3 837.0,549.3 847.1,550.3 857.3,549.5 869.2,549.5 881.1,549.5 889.6,549.0 901.3,547.3" fill="none" stroke="#e8c52e" stroke-width="1.1" stroke-linejoin="round"/>
</g>
<rect x="11" y="517" width="1333" height="1" fill="#d1d4dc"/>
<rect x="11" y="615" width="1333" height="1" fill="#d1d4dc"/>
<rect x="1279" y="28" width="1" height="614" fill="#9598a1"/>
<text x="17.9" y="45.4" textLength="37.1" lengthAdjust="spacingAndGlyphs">Market</text>
<text x="58.7" y="45.4" textLength="19.8" lengthAdjust="spacingAndGlyphs">Cap</text>
<text x="82.7" y="45.4" textLength="19.9" lengthAdjust="spacingAndGlyphs">BTC</text>
<text x="107.1" y="45.4" textLength="62.4" lengthAdjust="spacingAndGlyphs">Dominance,</text>
<text x="174.3" y="45.4" textLength="7.2" lengthAdjust="spacingAndGlyphs">%</text>
<text x="184.6" y="45.4" class="b">·</text>
<text x="193.3" y="45.4" textLength="12.4" lengthAdjust="spacingAndGlyphs">1D</text>
<text x="210.2" y="45.4" class="b">·</text>
<text x="218.3" y="45.4" textLength="61.4" lengthAdjust="spacingAndGlyphs">CRYPTOCAP</text>
<text x="287.7" y="45.4" textLength="44.6" lengthAdjust="spacingAndGlyphs">O60.75%</text>
<text x="340" y="45.4" textLength="44" lengthAdjust="spacingAndGlyphs">H60.91%</text>
<text x="391.8" y="45.4" textLength="42.3" lengthAdjust="spacingAndGlyphs">L60.56%</text>
<text x="441.6" y="45.4" textLength="43.4" lengthAdjust="spacingAndGlyphs">C60.64%</text>
<text x="493.2" y="45.4" textLength="28.4" lengthAdjust="spacingAndGlyphs">−0.11</text>
<text x="527.1" y="45.4" textLength="44.1" lengthAdjust="spacingAndGlyphs">(−0.18%)</text>
<text x="579" y="45.4" textLength="44.9" lengthAdjust="spacingAndGlyphs">Vol74.27</text>
<text x="627" y="45.4" textLength="5.7" lengthAdjust="spacingAndGlyphs">B</text>
<text x="18.5" y="536.9" textLength="15.5" lengthAdjust="spacingAndGlyphs">RSI</text>
<text x="137.3" y="632.8" textLength="15.3" lengthAdjust="spacingAndGlyphs">Jul</text>
<text x="321.3" y="632.8" textLength="19.7" lengthAdjust="spacingAndGlyphs">Aug</text>
<text x="507.3" y="632.8" textLength="19.4" lengthAdjust="spacingAndGlyphs">Sep</text>
<text x="687.2" y="632.8" textLength="19.8" lengthAdjust="spacingAndGlyphs">Oct</text>
<text x="872.9" y="632.8" textLength="19.8" lengthAdjust="spacingAndGlyphs">Nov</text>
<text x="1052.7" y="632.8" textLength="19.6" lengthAdjust="spacingAndGlyphs">Dec</text>
<text x="1235.6" y="632.8" textLength="26.8" lengthAdjust="spacingAndGlyphs" class="b">2026</text>
<text x="1288" y="39.5" textLength="36.6" lengthAdjust="spacingAndGlyphs">67.00%</text>
<text x="1288" y="123.6" textLength="36.6" lengthAdjust="spacingAndGlyphs">65.00%</text>
<text x="1288" y="166.5" textLength="36.6" lengthAdjust="spacingAndGlyphs">64.00%</text>
<text x="1288" y="210.5" textLength="36.6" lengthAdjust="spacingAndGlyphs">63.00%</text>
<text x="1288" y="254.6" textLength="36.6" lengthAdjust="spacingAndGlyphs">62.00%</text>
<text x="1288" y="300.7" textLength="36.6" lengthAdjust="spacingAndGlyphs">61.00%</text>
<text x="1288" y="392.8" textLength="36.6" lengthAdjust="spacingAndGlyphs">59.00%</text>
<text x="1288" y="430.7" textLength="36.6" lengthAdjust="spacingAndGlyphs">58.20%</text>
<text x="1288" y="503.6" textLength="36.6" lengthAdjust="spacingAndGlyphs">56.70%</text>
<text x="1288.6" y="529.8000000000001" textLength="29" lengthAdjust="spacingAndGlyphs">75.00</text>
<text x="1288.6" y="592.8000000000001" textLength="29" lengthAdjust="spacingAndGlyphs">25.00</text>
<path shape-rendering="auto" d="M1279 68.1 H1249.1 Q1247.1 68.1 1247.1 70.1 V82.7 Q1247.1 84.7 1249.1 84.7 H1279 Z" fill="#16306a"/>
<text x="1251.5" y="80.7" textLength="23.5" lengthAdjust="spacingAndGlyphs" class="w">High</text>
<path shape-rendering="auto" d="M1280 68.1 H1328 Q1330 68.1 1330 70.1 V82.7 Q1330 84.7 1328 84.7 H1280 Z" fill="#16306a"/>
<text x="1288" y="80.7" textLength="36.6" lengthAdjust="spacingAndGlyphs" class="w">66.03%</text>
<path shape-rendering="auto" d="M1280 229.8 H1328 Q1330 229.8 1330 231.8 V244.6 Q1330 246.6 1328 246.6 H1280 Z" fill="#f23645"/>
<text x="1288" y="242.5" textLength="36.6" lengthAdjust="spacingAndGlyphs" class="w">62.30%</text>
<path shape-rendering="auto" d="M1279 305.2 H1240.1 Q1238.1 305.2 1238.1 307.2 V319.7 Q1238.1 321.7 1240.1 321.7 H1279 Z" fill="#dcdcdc"/>
<text x="1242.5" y="317.75" textLength="32.7" lengthAdjust="spacingAndGlyphs" class="k">BTC.D</text>
<path shape-rendering="auto" d="M1280 305.2 H1338 Q1340 305.2 1340 307.2 V333.5 Q1340 335.5 1338 335.5 H1280 Z" fill="#dcdcdc"/>
<text x="1288" y="318" textLength="36.2" lengthAdjust="spacingAndGlyphs" class="k">60.64%</text>
<text x="1289" y="331.6" textLength="45.2" lengthAdjust="spacingAndGlyphs" style="fill:#3a3a3a;stroke:#3a3a3a">14:00:56</text>
<path shape-rendering="auto" d="M1280 336.5 H1328 Q1330 336.5 1330 338.5 V351 Q1330 353 1328 353 H1280 Z" fill="#f23645"/>
<text x="1288" y="349.05" textLength="36.6" lengthAdjust="spacingAndGlyphs" class="w">60.61%</text>
<path shape-rendering="auto" d="M1280 365 H1328 Q1330 365 1330 367 V379.7 Q1330 381.7 1328 381.7 H1280 Z" fill="#f23645"/>
<text x="1288" y="377.65000000000003" textLength="36.6" lengthAdjust="spacingAndGlyphs" class="w">59.34%</text>
<path shape-rendering="auto" d="M1280 460 H1328 Q1330 460 1330 462 V474.7 Q1330 476.7 1328 476.7 H1280 Z" fill="#f23645"/>
<text x="1288" y="472.65000000000003" textLength="36.6" lengthAdjust="spacingAndGlyphs" class="w">57.34%</text>
<path shape-rendering="auto" d="M1279 477.4 H1251.2 Q1249.2 477.4 1249.2 479.4 V491.8 Q1249.2 493.8 1251.2 493.8 H1279 Z" fill="#16306a"/>
<text x="1253.5" y="489.90000000000003" textLength="21.7" lengthAdjust="spacingAndGlyphs" class="w">Low</text>
<path shape-rendering="auto" d="M1280 477.4 H1328 Q1330 477.4 1330 479.4 V491.8 Q1330 493.8 1328 493.8 H1280 Z" fill="#16306a"/>
<text x="1288" y="489.90000000000003" textLength="36.6" lengthAdjust="spacingAndGlyphs" class="w">57.17%</text>
<path shape-rendering="auto" d="M1280 529.9 H1321 Q1323 529.9 1323 531.9 V544.8 Q1323 546.8 1321 546.8 H1280 Z" fill="#7e57c2"/>
<text x="1288" y="542.6499999999999" textLength="29" lengthAdjust="spacingAndGlyphs" class="w">65.06</text>
<path shape-rendering="auto" d="M1280 547.2 H1321 Q1323 547.2 1323 549.2 V561.8 Q1323 563.8 1321 563.8 H1280 Z" fill="#fdd835"/>
<text x="1288" y="559.8" textLength="29" lengthAdjust="spacingAndGlyphs" class="k">57.49</text>
<rect x="1279" y="28" width="1" height="614" fill="#9598a1" fill-opacity="0.7"/>
<g shape-rendering="auto" fill="#d9d9d9"><path d="M12.1 664.8 H24.4 V680 H18 V671 H12.1 Z"/><circle cx="28.5" cy="668" r="2.75"/><path d="M33.9 664.8 H41.8 L36.2 680 H29.1 Z"/></g>
<text x="49.4" y="680" textLength="120.3" lengthAdjust="spacingAndGlyphs" class="b" style="font-size:21px;fill:#d9d9d9">TradingView</text>
</svg>
</body></html>
